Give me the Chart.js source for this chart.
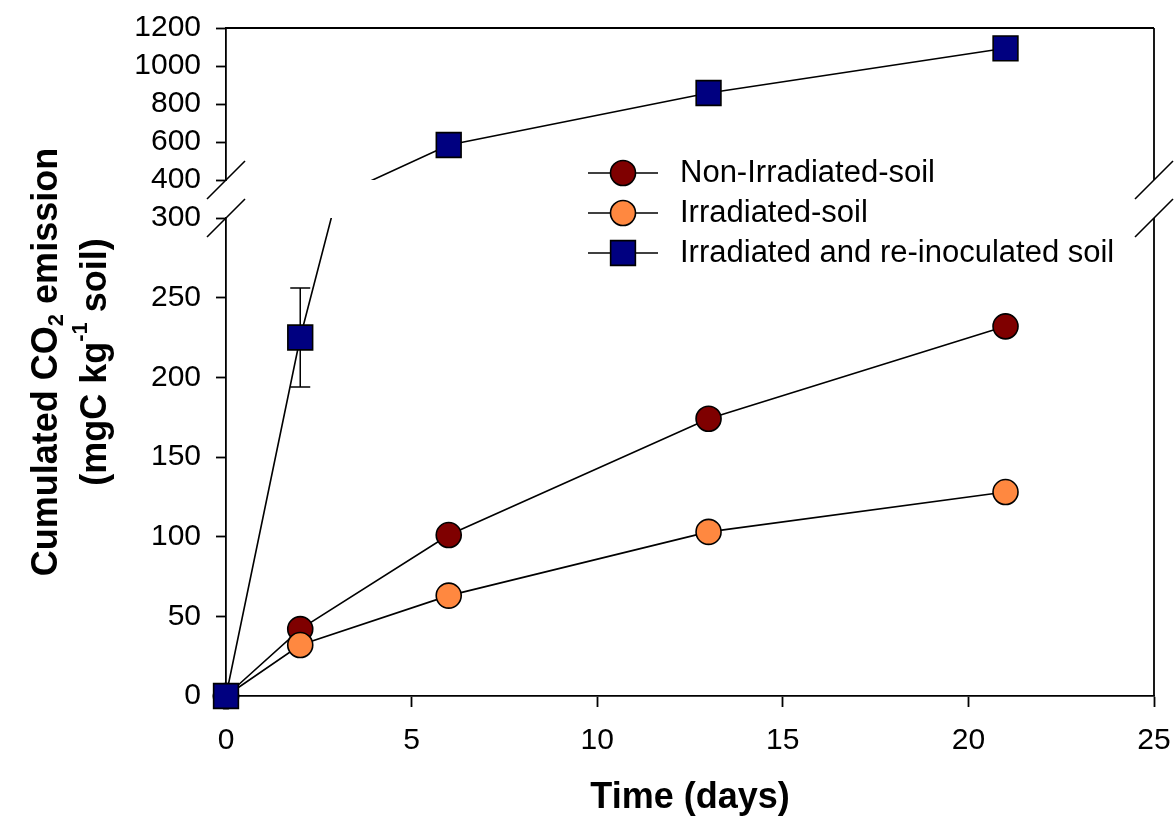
<!DOCTYPE html>
<html><head><meta charset="utf-8">
<script src="https://cdn.jsdelivr.net/npm/chart.js@4.4.1/dist/chart.umd.min.js"></script>
<style>html,body{margin:0;padding:0;background:#fff}#wrap{width:1174px;height:820px}</style>
</head><body><div id="wrap"><canvas id="c" width="1174" height="820"></canvas></div>
<script>
// ---- data ----
const days = [0, 2, 6, 13, 21];
const nonIrradiated = [0, 42, 101, 174, 232];
const irradiated = [0, 32, 63, 103, 128];
const reinoculated = [0, 225, 584, 858, 1093];
const reinoculatedErr = [0, 31, 0, 0, 0];
const xTicks = [0, 5, 10, 15, 20, 25];
const lowerTicks = [0, 50, 100, 150, 200, 250, 300];
const upperTicks = [400, 600, 800, 1000, 1200];
const seriesNames = ['Non-Irradiated-soil', 'Irradiated-soil', 'Irradiated and re-inoculated soil'];
const seriesColors = ['#7f0000', '#ff8840', '#000080'];
const seriesShapes = ['circle', 'circle', 'rect'];
const xTitle = 'Time (days)';
const yTitle1 = [['Cumulated CO', 0], ['2', -1], [' emission', 0]];
const yTitle2 = [['(mgC kg', 0], ['-1', 1], [' soil)', 0]];

const FONT = '"Liberation Sans", Arial, Helvetica, sans-serif';
const pts = ys => days.map((d, i) => ({x: d, y: ys[i]}));
const AXW = 1.8;
const LINEW = 1.6;
const CIRC_R = 12.5, RECT_R = 17.5;

function style(k) {
  const rect = seriesShapes[k] === 'rect';
  return {
    borderColor: '#000', borderWidth: LINEW, backgroundColor: seriesColors[k],
    pointBackgroundColor: seriesColors[k], pointBorderColor: '#000', pointBorderWidth: 1.6,
    pointStyle: seriesShapes[k], pointRadius: rect ? RECT_R : CIRC_R, pointHoverRadius: rect ? RECT_R : CIRC_R,
    tension: 0, fill: false
  };
}

const tickFont = {family: FONT, size: 30};
function yScale(min, max, ticksArr, weight, sw) {
  return {
    type: 'linear', position: 'left', stack: 'left', stackWeight: sw, weight: weight,
    min: min, max: max,
    afterBuildTicks: s => { s.ticks = ticksArr.map(v => ({value: v})); },
    afterFit: s => { s.width = 226; s.paddingTop = 0; s.paddingBottom = 0; },
    ticks: {color: '#000', font: tickFont, padding: 15, autoSkip: false, callback: v => String(v)},
    grid: {display: true, drawOnChartArea: false, drawTicks: true, tickLength: 10, tickColor: '#000', tickWidth: AXW},
    border: {display: true, color: '#000', width: AXW}
  };
}

const errorBars = {
  id: 'errorBars',
  beforeDatasetsDraw(chart) {
    const ctx = chart.ctx;
    chart.data.datasets.forEach((ds) => {
      if (!ds.errors) return;
      const xs = chart.scales.x, ys = chart.scales[ds.yAxisID];
      ctx.save();
      ctx.strokeStyle = '#000'; ctx.lineWidth = 1.5;
      ds.errors.forEach((e, i) => {
        if (!e) return;
        const v = ds.data[i].y;
        const px = xs.getPixelForValue(ds.data[i].x);
        const a = ys.getPixelForValue(v + e), b = ys.getPixelForValue(v - e);
        ctx.beginPath();
        ctx.moveTo(px, a); ctx.lineTo(px, b);
        ctx.moveTo(px - 10, a); ctx.lineTo(px + 10, a);
        ctx.moveTo(px - 10, b); ctx.lineTo(px + 10, b);
        ctx.stroke();
      });
      ctx.restore();
    });
  }
};

const frame = {
  id: 'frame',
  afterDraw(chart) {
    const ctx = chart.ctx, ca = chart.chartArea;
    const hi = chart.scales.yHigh, lo = chart.scales.yLow;
    ctx.save();
    ctx.strokeStyle = '#000'; ctx.lineWidth = AXW;
    ctx.beginPath();
    ctx.moveTo(ca.left, hi.top); ctx.lineTo(ca.right, hi.top);
    ctx.moveTo(ca.right, hi.top); ctx.lineTo(ca.right, hi.bottom);
    ctx.moveTo(ca.right, lo.top); ctx.lineTo(ca.right, lo.bottom);
    ctx.stroke();
    ctx.lineWidth = 1.6;
    [ca.left, ca.right].forEach(x => {
      [hi.bottom, lo.top].forEach(y => {
        ctx.beginPath();
        ctx.moveTo(x - 19, y + 19); ctx.lineTo(x + 19, y - 19);
        ctx.stroke();
      });
    });
    ctx.restore();
  }
};

function drawRich(ctx, parts, cx, cy, size) {
  const main = 'bold ' + size + 'px ' + FONT;
  const small = 'bold ' + Math.round(size * 0.6) + 'px ' + FONT;
  let total = 0;
  parts.forEach(p => { ctx.font = p[1] ? small : main; total += ctx.measureText(p[0]).width; });
  let x = cx - total / 2;
  parts.forEach(p => {
    ctx.font = p[1] ? small : main;
    const dy = p[1] === -1 ? size * 0.28 : (p[1] === 1 ? -size * 0.42 : 0);
    ctx.fillText(p[0], x, cy + dy);
    x += ctx.measureText(p[0]).width;
  });
}

const titles = {
  id: 'titles',
  afterDraw(chart) {
    const ctx = chart.ctx;
    ctx.save();
    ctx.fillStyle = '#000';
    ctx.textBaseline = 'middle';
    ctx.textAlign = 'left';
    ctx.translate(0, 362);
    ctx.rotate(-Math.PI / 2);
    drawRich(ctx, yTitle1, 0, 47, 36);
    drawRich(ctx, yTitle2, 0, 96, 36);
    ctx.restore();
  }
};

const legendPlugin = {
  id: 'customLegend',
  afterDraw(chart) {
    const ctx = chart.ctx;
    const rows = [173, 213, 253];
    ctx.save();
    seriesNames.forEach((name, k) => {
      const y = rows[k];
      ctx.strokeStyle = '#000'; ctx.lineWidth = LINEW;
      ctx.beginPath(); ctx.moveTo(588, y); ctx.lineTo(658, y); ctx.stroke();
      ctx.fillStyle = seriesColors[k]; ctx.lineWidth = 1.6;
      ctx.beginPath();
      if (seriesShapes[k] === 'rect') { const h = RECT_R * Math.SQRT1_2; ctx.rect(623 - h, y - h, 2 * h, 2 * h); }
      else ctx.arc(623, y, CIRC_R, 0, Math.PI * 2);
      ctx.fill(); ctx.stroke();
      ctx.fillStyle = '#000';
      ctx.font = '31px ' + FONT;
      ctx.textBaseline = 'middle'; ctx.textAlign = 'left';
      ctx.fillText(name, 680, y);
    });
    ctx.restore();
  }
};

new Chart(document.getElementById('c'), {
  type: 'line',
  data: {
    datasets: [
      Object.assign({label: seriesNames[2], data: pts(reinoculated), yAxisID: 'yLow', order: 0,
        errors: reinoculatedErr, clip: {left: false, right: false, top: 0, bottom: false}}, style(2)),
      Object.assign({label: seriesNames[2] + ' (upper)', data: pts(reinoculated), yAxisID: 'yHigh', order: 0,
        clip: {left: false, right: false, top: false, bottom: 0}}, style(2)),
      Object.assign({label: seriesNames[1], data: pts(irradiated), yAxisID: 'yLow', order: 1, clip: false}, style(1)),
      Object.assign({label: seriesNames[0], data: pts(nonIrradiated), yAxisID: 'yLow', order: 2, clip: false}, style(0))
    ]
  },
  options: {
    responsive: false, animation: false,
    layout: {padding: {top: 28, right: 20, left: 0, bottom: 0}},
    plugins: {legend: {display: false}, tooltip: {enabled: false}},
    scales: {
      x: {
        type: 'linear', position: 'bottom', min: 0, max: 25,
        afterBuildTicks: s => { s.ticks = xTicks.map(v => ({value: v})); },
        afterFit: s => { s.height = 124; s.paddingLeft = 0; s.paddingRight = 0; },
        ticks: {color: '#000', font: tickFont, padding: 16, autoSkip: false, maxRotation: 0, callback: v => String(v)},
        grid: {display: true, drawOnChartArea: false, drawTicks: true, tickLength: 11, tickColor: '#000', tickWidth: AXW},
        border: {display: true, color: '#000', width: AXW},
        title: {display: true, text: xTitle, color: '#000', font: {family: FONT, size: 36, weight: 'bold'}, padding: {top: 0, bottom: 0}}
      },
      yHigh: yScale(400, 1200, upperTicks, 3, 152),
      yGap: {
        type: 'linear', position: 'left', stack: 'left', stackWeight: 38, weight: 2, min: 0, max: 1,
        afterFit: s => { s.width = 226; s.paddingTop = 0; s.paddingBottom = 0; },
        ticks: {display: false}, grid: {display: false}, border: {display: false}
      },
      yLow: yScale(0, 300, lowerTicks, 1, 478)
    }
  },
  plugins: [errorBars, frame, titles, legendPlugin]
});
</script>
</body></html>
